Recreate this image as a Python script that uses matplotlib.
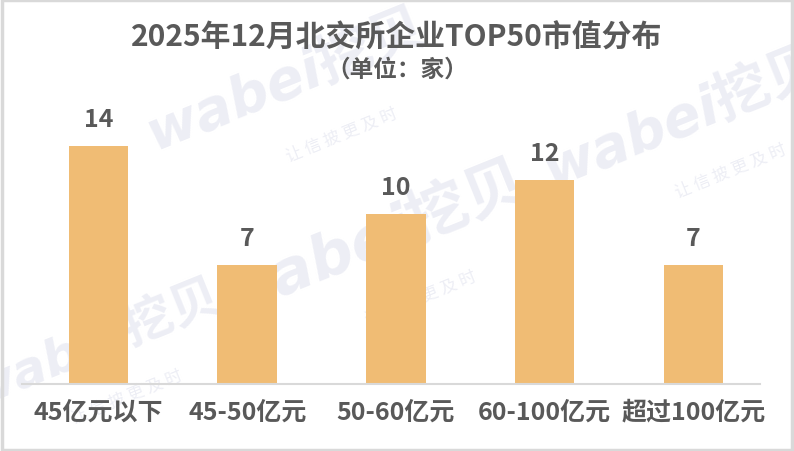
import matplotlib
matplotlib.use("Agg")
import matplotlib.pyplot as plt
from matplotlib.patches import Rectangle

plt.rcParams['font.family'] = ['Noto Sans CJK SC', 'DejaVu Sans']

# data
categories = ["45亿元以下", "45-50亿元", "50-60亿元", "60-100亿元", "超过100亿元"]
counts = [14, 7, 10, 12, 7]

title = "2025年12月北交所企业TOP50市值分布"
subtitle = "（单位：家）"

bar_color = "#F0BC74"
text_color = "#595959"

fig = plt.figure(figsize=(7.94, 4.52), dpi=100)
fig.patch.set_facecolor("white")

# faint watermark on a background axes, below everything
bg = fig.add_axes([0, 0, 1, 1], zorder=-1)
bg.set_axis_off()
bg.set_xlim(0, 1)
bg.set_ylim(0, 1)
wm = "#EDEEF5"
for x, y, s in [(0.36, 0.82, 40), (0.86, 0.74, 40), (0.47, 0.47, 44), (0.12, 0.24, 36)]:
    bg.text(x, y, "wabei挖贝", fontsize=s, fontweight="bold", color=wm, style="italic",
            rotation=22, ha="center", va="center", family=["DejaVu Sans", "Noto Sans CJK SC"])
for x, y in [(0.43, 0.70), (0.92, 0.62), (0.53, 0.34), (0.16, 0.12)]:
    bg.text(x, y, "让 信 披 更 及 时", fontsize=12, color=wm, rotation=22,
            ha="center", va="center")

ax = fig.add_axes([22 / 794, 67 / 452, 738 / 794, 272 / 452])
ax.set_facecolor("none")

x = range(len(categories))
ax.bar(x, counts, width=0.4, color=bar_color, zorder=2)

for xi, v in zip(x, counts):
    ax.text(xi, v + 0.9, str(v), ha="center", va="bottom", fontsize=18,
            fontweight="bold", color=text_color)

ax.set_xlim(-0.514, 4.447)
ax.set_ylim(0, 16)
ax.set_xticks(list(x))
ax.set_xticklabels(categories, fontsize=18, fontweight="bold", color=text_color)
ax.tick_params(axis="x", length=0, pad=11)
ax.set_yticks([])
for side in ["left", "right", "top"]:
    ax.spines[side].set_visible(False)
ax.spines["bottom"].set_color("#D9D9D9")
ax.spines["bottom"].set_linewidth(1.5)

fig.text(0.5, 1 - 38 / 452, title, ha="center", va="center", fontsize=21.5,
         fontweight="bold", color=text_color)
fig.text(0.5, 1 - 70 / 452, subtitle, ha="center", va="center", fontsize=17,
         fontweight="bold", color=text_color)

fig.patches.append(Rectangle((0.002, 0.003), 0.996, 0.994, transform=fig.transFigure,
                             fill=False, edgecolor="#D9D9D9", linewidth=2.5))

fig.savefig("out.png", dpi=100)
